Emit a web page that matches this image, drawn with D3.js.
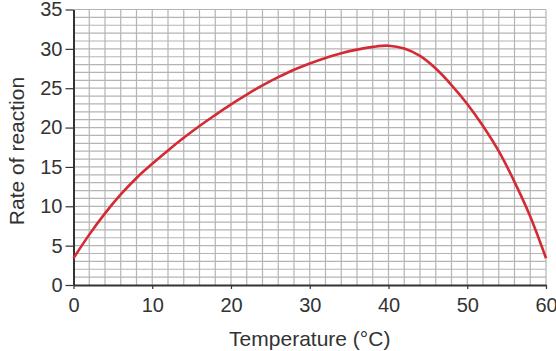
<!DOCTYPE html>
<html>
<head>
<meta charset="utf-8">
<script src="https://cdn.jsdelivr.net/npm/d3@7"></script>
<style>
  html, body { margin: 0; padding: 0; background: #fff; }
  svg { display: block; font-family: "Liberation Sans", Arial, sans-serif; }
</style>
</head>
<body>
<svg id="chart"></svg>
<script>
// temperature (°C) and rate of reaction
var temps = [0, 2, 4, 6, 8, 10, 12, 14, 16, 18, 20, 22, 24, 26, 28, 30, 32, 34, 36, 38, 40, 42, 44, 46, 48, 50, 52, 54, 56, 58, 60];
var rates = [3.4, 6.4, 9.1, 11.5, 13.6, 15.4, 17.1, 18.7, 20.2, 21.6, 22.95, 24.2, 25.35, 26.4, 27.35, 28.15, 28.85, 29.45, 29.9, 30.25, 30.4, 30.05, 29.1, 27.5, 25.4, 23.0, 20.2, 17.0, 13.1, 8.7, 3.4];
var xTicks = [0, 10, 20, 30, 40, 50, 60];
var yTicks = [0, 5, 10, 15, 20, 25, 30, 35];

var width = 556, height = 351;
var plotLeft = 73.5, plotRight = 546, plotTop = 9.5, plotBottom = 285;

var svg = d3.select('#chart')
    .attr('width', width)
    .attr('height', height);

var x = d3.scaleLinear().domain([0, 60]).range([plotLeft, plotRight]);
var y = d3.scaleLinear().domain([0, 35]).range([plotBottom, plotTop]);

// grid: every 2 degrees, every 1 unit of rate
var grid = svg.append('g').attr('stroke', '#b4b4b4').attr('stroke-width', 1.2);
grid.selectAll('line.v')
    .data(d3.range(2, 61, 2))
    .enter().append('line')
    .attr('x1', d => x(d)).attr('x2', d => x(d))
    .attr('y1', y(0)).attr('y2', y(35));
grid.selectAll('line.h')
    .data(d3.range(1, 36, 1))
    .enter().append('line')
    .attr('x1', x(0)).attr('x2', x(60))
    .attr('y1', d => y(d)).attr('y2', d => y(d));

// axes
var xAxis = svg.append('g')
    .attr('transform', 'translate(0,' + plotBottom + ')')
    .call(d3.axisBottom(x).tickValues(xTicks).tickSize(4).tickPadding(9).tickSizeOuter(0));
var yAxis = svg.append('g')
    .attr('transform', 'translate(' + plotLeft + ',0)')
    .call(d3.axisLeft(y).tickValues(yTicks).tickSize(8).tickPadding(3).tickSizeOuter(0));

[xAxis, yAxis].forEach(function(ax) {
    ax.select('.domain').attr('stroke', '#333').attr('stroke-width', 2);
    ax.selectAll('.tick line').attr('stroke', '#333').attr('stroke-width', 1.2);
    ax.selectAll('.tick text')
        .attr('fill', '#333')
        .style('font-size', '20px')
        .style('font-family', '"Liberation Sans", Arial, sans-serif');
});

// curve
var line = d3.line()
    .x((d, i) => x(temps[i]))
    .y(d => y(d))
    .curve(d3.curveCatmullRom.alpha(0.5));

svg.append('path')
    .datum(rates)
    .attr('d', line)
    .attr('fill', 'none')
    .attr('stroke', '#d42a33')
    .attr('stroke-width', 2.6);

// axis titles
svg.append('text')
    .attr('x', (plotLeft + plotRight) / 2)
    .attr('y', 346)
    .attr('text-anchor', 'middle')
    .attr('fill', '#333')
    .style('font-size', '21px')
    .text('Temperature (°C)');

svg.append('text')
    .attr('transform', 'translate(24,' + 151 + ') rotate(-90)')
    .attr('text-anchor', 'middle')
    .attr('fill', '#333')
    .style('font-size', '21px')
    .text('Rate of reaction');
</script>
</body>
</html>
